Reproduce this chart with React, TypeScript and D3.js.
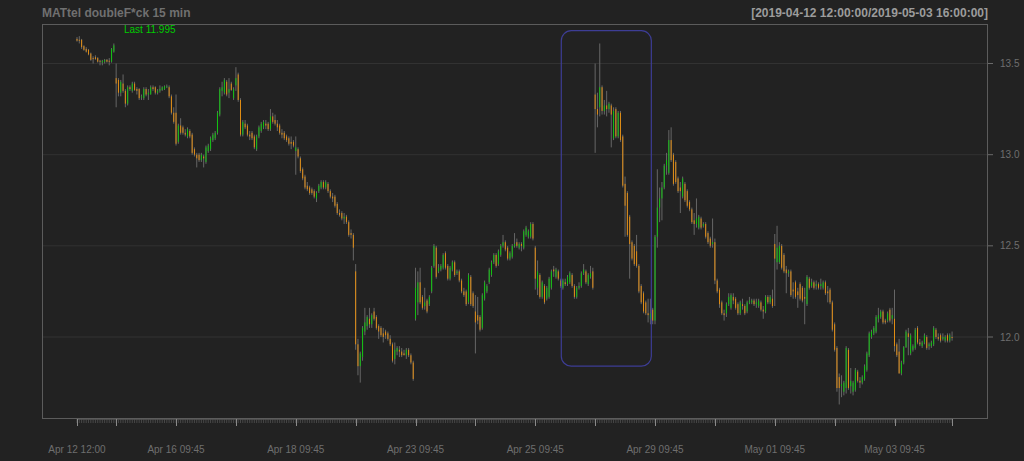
import React from 'react';
import * as d3 from 'd3';

// [open, high, low, close] per 15-minute bar
type Bar = [number, number, number, number];

const apr12: Bar[] = [
  [13.635, 13.645, 13.62, 13.625], [13.63, 13.65, 13.61, 13.625], [13.63, 13.635, 13.58, 13.59], [13.595, 13.6, 13.57, 13.575],
  [13.58, 13.59, 13.56, 13.565], [13.575, 13.58, 13.545, 13.55], [13.555, 13.56, 13.515, 13.52], [13.53, 13.54, 13.5, 13.525],
  [13.535, 13.545, 13.52, 13.525], [13.53, 13.535, 13.505, 13.51], [13.515, 13.52, 13.49, 13.51], [13.505, 13.52, 13.49, 13.515],
  [13.51, 13.525, 13.5, 13.52], [13.52, 13.525, 13.505, 13.51], [13.515, 13.53, 13.49, 13.51], [13.51, 13.585, 13.505, 13.58],
  [13.565, 13.61, 13.56, 13.6],
];
const apr15: Bar[] = [
  [13.42, 13.5, 13.26, 13.39], [13.41, 13.42, 13.32, 13.34], [13.34, 13.41, 13.32, 13.4], [13.39, 13.44, 13.34, 13.35],
  [13.35, 13.36, 13.26, 13.28], [13.28, 13.38, 13.27, 13.37], [13.37, 13.38, 13.35, 13.36], [13.35, 13.4, 13.34, 13.39],
  [13.39, 13.4, 13.35, 13.355], [13.36, 13.37, 13.33, 13.35], [13.36, 13.365, 13.3, 13.31], [13.32, 13.33, 13.3, 13.32],
  [13.31, 13.37, 13.3, 13.36], [13.36, 13.37, 13.32, 13.33], [13.33, 13.36, 13.3, 13.34], [13.33, 13.38, 13.33, 13.37],
  [13.37, 13.38, 13.35, 13.36], [13.37, 13.375, 13.33, 13.34], [13.34, 13.36, 13.33, 13.35], [13.35, 13.38, 13.34, 13.36],
  [13.355, 13.375, 13.35, 13.37], [13.36, 13.38, 13.355, 13.375], [13.37, 13.385, 13.365, 13.375], [13.37, 13.38, 13.31, 13.32],
  [13.32, 13.33, 13.22, 13.23], [13.23, 13.26, 13.17, 13.18],
];
const apr16: Bar[] = [
  [13.23, 13.33, 13.05, 13.06], [13.07, 13.17, 13.06, 13.16], [13.16, 13.2, 13.11, 13.12], [13.15, 13.16, 13.11, 13.12],
  [13.12, 13.14, 13.1, 13.11], [13.1, 13.15, 13.09, 13.14], [13.13, 13.14, 13.09, 13.1], [13.11, 13.12, 13.0, 13.01],
  [13.03, 13.04, 12.99, 13.0], [13.0, 13.01, 12.93, 12.98], [13.0, 13.01, 12.96, 12.97], [12.97, 13.01, 12.96, 13.0],
  [12.99, 13.0, 12.93, 12.98], [12.96, 13.05, 12.95, 13.04], [13.02, 13.06, 13.01, 13.05], [13.03, 13.1, 13.02, 13.09],
  [13.08, 13.12, 13.07, 13.11], [13.09, 13.13, 13.08, 13.12], [13.12, 13.24, 13.11, 13.23], [13.22, 13.37, 13.21, 13.36],
  [13.35, 13.4, 13.32, 13.37], [13.34, 13.42, 13.33, 13.41], [13.4, 13.41, 13.32, 13.33], [13.34, 13.42, 13.31, 13.36],
  [13.39, 13.4, 13.35, 13.355], [13.31, 13.37, 13.3, 13.36],
];
const apr17: Bar[] = [
  [13.38, 13.48, 13.35, 13.42], [13.44, 13.45, 13.29, 13.3], [13.3, 13.31, 13.1, 13.11], [13.11, 13.19, 13.1, 13.18],
  [13.17, 13.19, 13.14, 13.15], [13.16, 13.17, 13.1, 13.11], [13.11, 13.13, 13.08, 13.1], [13.12, 13.13, 13.08, 13.09],
  [13.1, 13.11, 13.03, 13.04], [13.03, 13.11, 13.02, 13.1], [13.1, 13.16, 13.09, 13.15], [13.13, 13.18, 13.12, 13.17],
  [13.15, 13.19, 13.14, 13.18], [13.17, 13.19, 13.14, 13.16], [13.17, 13.18, 13.13, 13.14], [13.14, 13.25, 13.13, 13.21],
  [13.21, 13.23, 13.17, 13.18], [13.19, 13.22, 13.16, 13.17], [13.17, 13.19, 13.13, 13.15], [13.16, 13.17, 13.11, 13.12],
  [13.12, 13.14, 13.09, 13.11], [13.12, 13.13, 13.08, 13.09], [13.1, 13.11, 13.07, 13.08], [13.09, 13.1, 13.05, 13.06],
  [13.07, 13.1, 13.03, 13.06], [13.07, 13.08, 13.04, 13.05],
];
const apr18: Bar[] = [
  [13.02, 13.1, 12.89, 13.04], [13.03, 13.04, 12.98, 12.99], [12.98, 12.99, 12.9, 12.91], [12.92, 12.93, 12.86, 12.87],
  [12.88, 12.89, 12.81, 12.82], [12.83, 12.85, 12.8, 12.81], [12.82, 12.83, 12.78, 12.79], [12.81, 12.82, 12.78, 12.79],
  [12.8, 12.81, 12.76, 12.77], [12.76, 12.8, 12.74, 12.79], [12.8, 12.84, 12.79, 12.83], [12.82, 12.86, 12.81, 12.85],
  [12.85, 12.86, 12.81, 12.82], [12.82, 12.86, 12.81, 12.85], [12.84, 12.85, 12.79, 12.8], [12.8, 12.81, 12.76, 12.77],
  [12.77, 12.79, 12.74, 12.76], [12.77, 12.78, 12.71, 12.72], [12.73, 12.74, 12.67, 12.68], [12.68, 12.7, 12.66, 12.67],
  [12.68, 12.69, 12.64, 12.65], [12.65, 12.68, 12.62, 12.66], [12.66, 12.67, 12.62, 12.63], [12.63, 12.64, 12.55, 12.56],
  [12.57, 12.59, 12.54, 12.56], [12.56, 12.57, 12.42, 12.49],
];
const apr22: Bar[] = [
  [12.36, 12.4, 11.93, 11.96], [11.96, 11.99, 11.79, 11.84], [11.84, 11.92, 11.75, 11.91], [11.89, 12.06, 11.87, 12.05],
  [12.03, 12.16, 12.01, 12.08], [12.06, 12.12, 12.04, 12.11], [12.1, 12.16, 12.05, 12.07], [12.07, 12.13, 12.05, 12.12],
  [12.14, 12.16, 12.09, 12.1], [12.11, 12.12, 12.04, 12.05], [12.06, 12.07, 11.99, 12.03], [12.05, 12.06, 12.0, 12.01],
  [12.02, 12.05, 11.97, 12.0], [12.03, 12.04, 11.99, 12.01], [12.02, 12.03, 11.98, 11.99], [11.99, 12.01, 11.95, 11.96],
  [11.96, 11.97, 11.86, 11.87], [11.88, 11.97, 11.85, 11.93], [11.92, 11.95, 11.9, 11.94], [11.93, 11.95, 11.89, 11.92],
  [11.92, 11.94, 11.89, 11.9], [11.91, 11.93, 11.9, 11.9], [11.9, 11.94, 11.88, 11.93], [11.93, 11.94, 11.89, 11.9],
  [11.9, 11.91, 11.85, 11.86], [11.86, 11.87, 11.76, 11.77],
];
const apr23: Bar[] = [
  [12.1, 12.38, 12.09, 12.27], [12.19, 12.36, 12.12, 12.3], [12.3, 12.38, 12.18, 12.19], [12.22, 12.23, 12.15, 12.16],
  [12.17, 12.27, 12.15, 12.19], [12.2, 12.21, 12.13, 12.14], [12.18, 12.23, 12.17, 12.22], [12.25, 12.39, 12.24, 12.38],
  [12.39, 12.51, 12.38, 12.5], [12.49, 12.5, 12.32, 12.33], [12.36, 12.4, 12.35, 12.38], [12.37, 12.4, 12.36, 12.39],
  [12.38, 12.46, 12.37, 12.45], [12.46, 12.47, 12.37, 12.38], [12.39, 12.4, 12.31, 12.32], [12.32, 12.39, 12.31, 12.38],
  [12.37, 12.42, 12.36, 12.41], [12.41, 12.42, 12.33, 12.34], [12.35, 12.37, 12.34, 12.36], [12.36, 12.37, 12.3, 12.31],
  [12.31, 12.32, 12.24, 12.25], [12.25, 12.27, 12.22, 12.23], [12.25, 12.26, 12.17, 12.18], [12.19, 12.35, 12.18, 12.34],
  [12.33, 12.34, 12.17, 12.18], [12.24, 12.25, 12.16, 12.17],
];
const apr24: Bar[] = [
  [12.14, 12.23, 11.91, 12.08], [12.12, 12.22, 12.07, 12.09], [12.11, 12.12, 12.03, 12.04], [12.05, 12.24, 12.04, 12.23],
  [12.21, 12.31, 12.2, 12.3], [12.25, 12.29, 12.24, 12.28], [12.3, 12.38, 12.29, 12.37], [12.34, 12.42, 12.33, 12.41],
  [12.41, 12.46, 12.4, 12.45], [12.45, 12.46, 12.38, 12.39], [12.4, 12.48, 12.39, 12.47], [12.45, 12.51, 12.44, 12.5],
  [12.5, 12.56, 12.49, 12.52], [12.52, 12.53, 12.47, 12.48], [12.49, 12.5, 12.42, 12.43], [12.43, 12.47, 12.42, 12.46],
  [12.44, 12.51, 12.43, 12.5], [12.5, 12.57, 12.49, 12.51], [12.52, 12.54, 12.49, 12.5], [12.49, 12.52, 12.48, 12.51],
  [12.51, 12.52, 12.47, 12.5], [12.49, 12.59, 12.48, 12.58], [12.56, 12.61, 12.55, 12.6], [12.55, 12.59, 12.54, 12.58],
  [12.55, 12.63, 12.54, 12.62], [12.62, 12.63, 12.53, 12.54],
];
const apr25: Bar[] = [
  [12.49, 12.5, 12.26, 12.32], [12.27, 12.42, 12.23, 12.36], [12.34, 12.35, 12.21, 12.22], [12.22, 12.31, 12.21, 12.3],
  [12.28, 12.29, 12.18, 12.19], [12.21, 12.28, 12.2, 12.27], [12.22, 12.33, 12.21, 12.32], [12.27, 12.37, 12.26, 12.36],
  [12.37, 12.39, 12.33, 12.36], [12.33, 12.38, 12.32, 12.37], [12.36, 12.37, 12.31, 12.32], [12.31, 12.32, 12.27, 12.28],
  [12.27, 12.32, 12.26, 12.31], [12.3, 12.32, 12.28, 12.29], [12.29, 12.34, 12.28, 12.33], [12.3, 12.36, 12.29, 12.35],
  [12.34, 12.35, 12.27, 12.28], [12.28, 12.29, 12.21, 12.22], [12.22, 12.28, 12.21, 12.27], [12.27, 12.3, 12.26, 12.28],
  [12.28, 12.36, 12.27, 12.35], [12.35, 12.4, 12.34, 12.37], [12.36, 12.37, 12.29, 12.3], [12.29, 12.35, 12.28, 12.34],
  [12.33, 12.39, 12.32, 12.35], [12.36, 12.38, 12.26, 12.27],
];
const apr26: Bar[] = [
  [13.33, 13.5, 13.01, 13.25], [13.25, 13.34, 13.15, 13.22], [13.26, 13.61, 13.21, 13.37], [13.37, 13.38, 13.22, 13.24],
  [13.24, 13.3, 13.22, 13.27], [13.27, 13.35, 13.21, 13.25], [13.25, 13.29, 13.23, 13.28], [13.27, 13.28, 13.04, 13.22],
  [13.09, 13.26, 13.08, 13.24], [13.25, 13.26, 13.09, 13.1], [13.1, 13.24, 13.09, 13.23], [13.23, 13.24, 13.07, 13.08],
  [13.1, 13.11, 12.82, 12.83], [12.84, 12.88, 12.55, 12.72], [12.79, 12.8, 12.55, 12.56], [12.66, 12.67, 12.32, 12.51],
  [12.52, 12.53, 12.42, 12.43], [12.5, 12.51, 12.39, 12.4], [12.47, 12.56, 12.38, 12.39], [12.39, 12.4, 12.24, 12.25],
  [12.28, 12.29, 12.18, 12.19], [12.24, 12.25, 12.13, 12.14], [12.19, 12.2, 12.12, 12.13], [12.13, 12.21, 12.08, 12.12],
  [12.1, 12.21, 12.07, 12.13], [12.15, 12.16, 12.07, 12.09],
];
const apr29: Bar[] = [
  [12.09, 12.56, 12.07, 12.55], [12.55, 12.92, 12.49, 12.71], [12.71, 12.82, 12.63, 12.76], [12.76, 12.85, 12.64, 12.82],
  [12.82, 12.95, 12.81, 12.94], [12.94, 13.01, 12.89, 12.97], [12.9, 13.135, 12.89, 13.08], [13.08, 13.15, 12.96, 12.97],
  [13.0, 13.01, 12.83, 12.84], [12.96, 12.97, 12.84, 12.85], [12.87, 12.88, 12.79, 12.8], [12.82, 12.85, 12.68, 12.8],
  [12.77, 12.88, 12.76, 12.87], [12.84, 12.85, 12.74, 12.75], [12.8, 12.81, 12.71, 12.72], [12.74, 12.75, 12.69, 12.7],
  [12.7, 12.71, 12.62, 12.63], [12.64, 12.68, 12.56, 12.62], [12.62, 12.76, 12.6, 12.65], [12.6, 12.67, 12.59, 12.66],
  [12.65, 12.66, 12.59, 12.6], [12.61, 12.63, 12.6, 12.62], [12.62, 12.63, 12.54, 12.55], [12.57, 12.58, 12.51, 12.52],
  [12.54, 12.55, 12.49, 12.5], [12.51, 12.65, 12.49, 12.52],
];
const apr30: Bar[] = [
  [12.52, 12.54, 12.29, 12.31], [12.31, 12.32, 12.24, 12.25], [12.26, 12.27, 12.16, 12.18], [12.19, 12.2, 12.12, 12.13],
  [12.13, 12.15, 12.09, 12.12], [12.13, 12.19, 12.11, 12.18], [12.18, 12.24, 12.17, 12.22], [12.16, 12.24, 12.15, 12.23],
  [12.22, 12.24, 12.18, 12.2], [12.21, 12.22, 12.15, 12.16], [12.18, 12.19, 12.12, 12.13], [12.13, 12.2, 12.12, 12.19],
  [12.18, 12.21, 12.15, 12.17], [12.17, 12.18, 12.12, 12.13], [12.14, 12.2, 12.13, 12.19], [12.19, 12.22, 12.18, 12.2],
  [12.19, 12.21, 12.18, 12.2], [12.2, 12.21, 12.17, 12.18], [12.18, 12.21, 12.16, 12.19], [12.17, 12.21, 12.16, 12.2],
  [12.19, 12.2, 12.14, 12.15], [12.15, 12.17, 12.1, 12.14], [12.14, 12.23, 12.13, 12.22], [12.22, 12.23, 12.18, 12.19],
  [12.19, 12.23, 12.18, 12.22], [12.21, 12.26, 12.16, 12.17],
];
const may01: Bar[] = [
  [12.51, 12.565, 12.17, 12.43], [12.41, 12.61, 12.37, 12.49], [12.41, 12.52, 12.4, 12.5], [12.5, 12.51, 12.37, 12.38],
  [12.45, 12.46, 12.35, 12.36], [12.37, 12.39, 12.24, 12.35], [12.35, 12.37, 12.33, 12.36], [12.36, 12.37, 12.22, 12.23],
  [12.26, 12.3, 12.21, 12.25], [12.3, 12.31, 12.21, 12.22], [12.25, 12.27, 12.16, 12.23], [12.29, 12.3, 12.2, 12.21],
  [12.27, 12.28, 12.19, 12.2], [12.22, 12.27, 12.07, 12.21], [12.18, 12.34, 12.17, 12.33], [12.32, 12.33, 12.26, 12.27],
  [12.28, 12.32, 12.27, 12.3], [12.3, 12.31, 12.26, 12.27], [12.28, 12.31, 12.26, 12.29], [12.29, 12.3, 12.26, 12.27],
  [12.28, 12.32, 12.26, 12.29], [12.27, 12.31, 12.26, 12.3], [12.3, 12.31, 12.23, 12.24], [12.25, 12.28, 12.19, 12.24],
  [12.26, 12.27, 12.18, 12.19], [12.19, 12.2, 12.03, 12.04],
];
const may02: Bar[] = [
  [12.07, 12.08, 11.92, 11.93], [11.94, 11.95, 11.7, 11.72], [11.78, 11.8, 11.63, 11.72], [11.73, 11.79, 11.67, 11.74],
  [11.7, 11.76, 11.68, 11.75], [11.72, 11.95, 11.69, 11.94], [11.93, 11.94, 11.71, 11.72], [11.73, 11.83, 11.69, 11.76],
  [11.7, 11.76, 11.68, 11.75], [11.71, 11.83, 11.7, 11.82], [11.81, 11.82, 11.75, 11.76], [11.76, 11.78, 11.72, 11.75],
  [11.75, 11.79, 11.74, 11.78], [11.77, 11.85, 11.76, 11.84], [11.82, 11.92, 11.81, 11.91], [11.9, 12.03, 11.89, 12.02],
  [12.0, 12.04, 11.99, 12.03], [12.02, 12.06, 12.01, 12.05], [12.03, 12.12, 12.02, 12.11], [12.1, 12.16, 12.08, 12.12],
  [12.11, 12.15, 12.1, 12.14], [12.14, 12.15, 12.07, 12.08], [12.09, 12.1, 12.07, 12.08], [12.09, 12.14, 12.08, 12.13],
  [12.15, 12.16, 12.08, 12.09], [12.1, 12.16, 12.07, 12.12],
];
const may03: Bar[] = [
  [12.1, 12.26, 11.92, 11.95], [11.96, 11.97, 11.89, 11.9], [11.92, 11.99, 11.8, 11.8], [11.8, 11.87, 11.79, 11.86],
  [11.86, 11.95, 11.85, 11.945], [11.945, 12.04, 11.94, 12.03], [12.02, 12.05, 11.9, 12.0], [11.91, 12.02, 11.9, 12.01],
  [11.93, 11.96, 11.92, 11.95], [11.94, 12.05, 11.93, 12.04], [12.05, 12.06, 11.96, 11.97], [11.97, 11.99, 11.95, 11.96],
  [11.95, 11.98, 11.94, 11.97], [11.97, 12.02, 11.96, 12.01], [12.0, 12.01, 11.93, 11.94], [11.95, 11.97, 11.93, 11.96],
  [11.95, 11.98, 11.94, 11.97], [11.96, 12.06, 11.95, 12.05], [12.04, 12.05, 11.99, 12.0], [12.0, 12.02, 11.98, 11.99],
  [12.01, 12.02, 11.97, 11.98], [11.99, 12.02, 11.98, 12.0], [11.98, 12.01, 11.97, 12.0], [12.01, 12.02, 11.97, 11.98],
  [11.98, 12.02, 11.97, 12.01], [12.0, 12.03, 11.98, 11.995],
];

// trading sessions: [day label, first bar time, bars]
const sessions: [string, string, Bar[]][] = [
  ['Apr 12', '12:00', apr12], ['Apr 15', '09:45', apr15], ['Apr 16', '09:45', apr16], ['Apr 17', '09:45', apr17],
  ['Apr 18', '09:45', apr18], ['Apr 22', '09:45', apr22], ['Apr 23', '09:45', apr23], ['Apr 24', '09:45', apr24],
  ['Apr 25', '09:45', apr25], ['Apr 26', '09:45', apr26], ['Apr 29', '09:45', apr29], ['Apr 30', '09:45', apr30],
  ['May 01', '09:45', may01], ['May 02', '09:45', may02], ['May 03', '09:45', may03],
];

const priceTicks = [12.0, 12.5, 13.0, 13.5];
const chartTitle = 'MATtel doubleF*ck 15 min';
const rangeLabel = '[2019-04-12 12:00:00/2019-05-03 16:00:00]';
// highlighted region, in bar index / price units
const highlight = { fromBar: 210.3, toBar: 249.4, top: 13.68, bottom: 11.84 };

const BG = '#222222';
const UP = '#12c212';
const DOWN = '#e08c14';
const WICK = '#666666';
const FONT = '"Liberation Sans", Arial, Helvetica, sans-serif';

export default function App() {
  const W = 1024, H = 461;
  const box = { left: 42, right: 988, top: 24, bottom: 418 };
  const bars = sessions.flatMap((s) => s[2]);
  const n = bars.length;
  const x = d3.scaleLinear().domain([-15.2, n - 1 + 15.6]).range([box.left, box.right]);
  const y = d3.scaleLinear().domain([11.5558, 13.7167]).range([box.bottom, box.top]);

  let acc = 0;
  const dayStarts = sessions.map((s) => {
    const st = acc;
    acc += s[2].length;
    return st;
  });
  const majorTicks = [...dayStarts, n - 1];
  const lastClose = bars[n - 1][3];

  return (
    <svg
      width={W}
      height={H}
      style={{ position: 'absolute', left: 0, top: 0, display: 'block' }}
      fontFamily={FONT}
    >
      <rect x={0} y={0} width={W} height={H} fill={BG} />
      {priceTicks.map((p) => (
        <line key={'g' + p} x1={box.left} x2={box.right} y1={y(p)} y2={y(p)} stroke="#323232" strokeWidth={1} />
      ))}
      <rect
        x={box.left + 0.5}
        y={box.top + 0.5}
        width={box.right - box.left - 1}
        height={box.bottom - box.top}
        fill="none"
        stroke="#5c5c5c"
        strokeWidth={1}
      />
      {/* x axis */}
      <line x1={x(0)} x2={x(n - 1)} y1={box.bottom + 1.5} y2={box.bottom + 1.5} stroke="#4a4a4a" />
      {bars.map((_, i) => (
        <line key={'m' + i} x1={x(i)} x2={x(i)} y1={box.bottom + 1} y2={box.bottom + 5} stroke="#505050" strokeWidth={0.8} />
      ))}
      {majorTicks.map((i) => (
        <line key={'M' + i} x1={Math.round(x(i)) + 0.5} x2={Math.round(x(i)) + 0.5} y1={box.bottom + 1} y2={box.bottom + 8} stroke="#8a8a8a" />
      ))}
      {sessions.map((s, k) =>
        k % 2 === 0 ? (
          <text key={'l' + k} x={x(dayStarts[k])} y={453} fontSize={10} fill="#6e6e6e" textAnchor="middle">
            {`${s[0]} ${s[1]}`}
          </text>
        ) : null
      )}
      {/* y axis */}
      {priceTicks.map((p) => (
        <g key={'y' + p}>
          <line x1={box.right} x2={box.right + 5} y1={y(p)} y2={y(p)} stroke="#6a6a6a" />
          <text x={1000} y={y(p)} dy="0.35em" fontSize={10} fill="#6e6e6e">
            {p.toFixed(1)}
          </text>
        </g>
      ))}
      {/* candles */}
      {bars.map((b, i) => {
        const [o, h, l, c] = b;
        const cx = x(i);
        const yt = y(Math.max(o, c));
        const yb = y(Math.min(o, c));
        return (
          <g key={'c' + i}>
            <rect x={cx - 0.5} y={y(h)} width={1} height={Math.max(1, y(l) - y(h))} fill={WICK} />
            <rect x={cx - 0.5} y={yt} width={1} height={Math.max(1, yb - yt)} fill={c >= o ? UP : DOWN} />
          </g>
        );
      })}
      <rect
        x={x(highlight.fromBar)}
        y={y(highlight.top)}
        width={x(highlight.toBar) - x(highlight.fromBar)}
        height={y(highlight.bottom) - y(highlight.top)}
        rx={10}
        ry={10}
        fill="none"
        stroke="#3d3d95"
        strokeWidth={1.2}
      />
      <text x={box.left} y={17} fontSize={12} fontWeight="bold" fill="#707070">
        {chartTitle}
      </text>
      <text x={box.right} y={17} fontSize={12} fontWeight="bold" fill="#9c9c9c" textAnchor="end">
        {rangeLabel}
      </text>
      <text x={124} y={33} fontSize={10} fill="#00cc00">
        {`Last ${lastClose}`}
      </text>
    </svg>
  );
}
